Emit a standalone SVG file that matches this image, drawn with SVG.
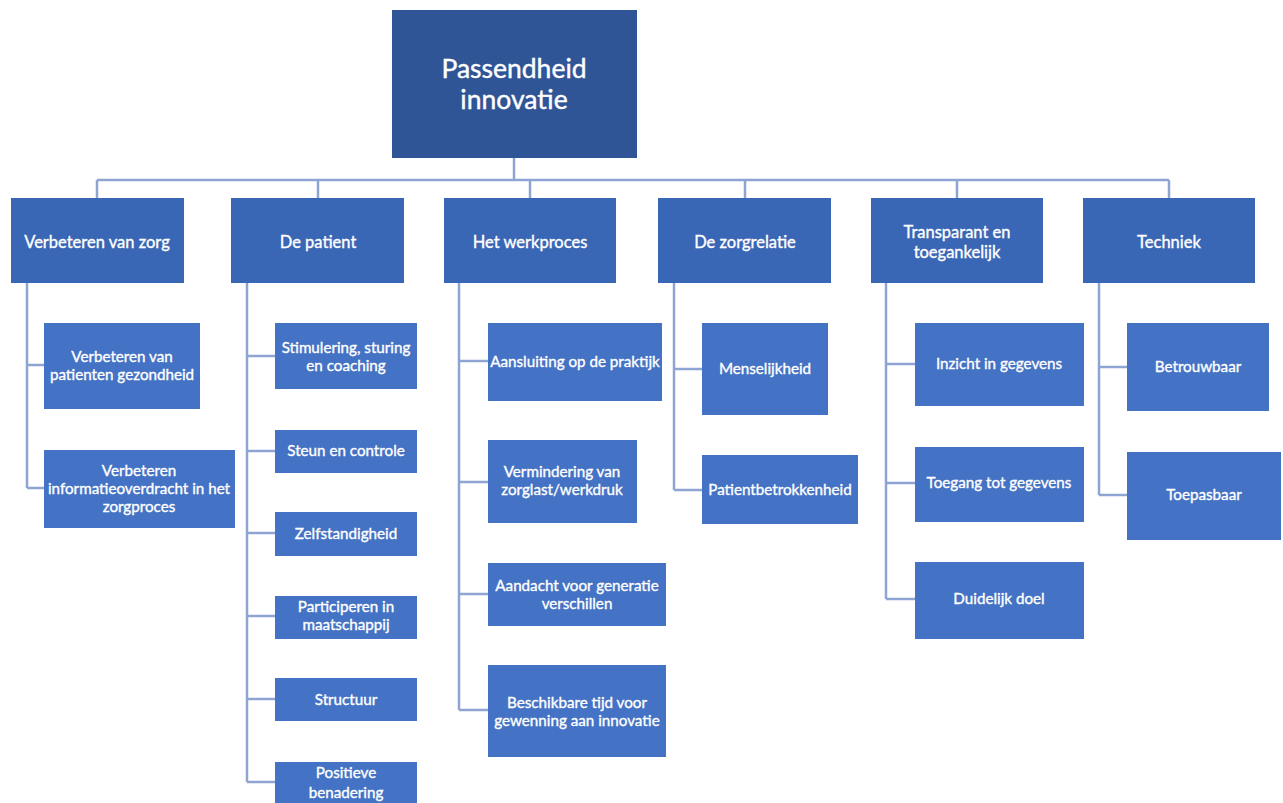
<svg xmlns="http://www.w3.org/2000/svg" width="1283" height="803" viewBox="0 0 1283 803">
  <style>
    .root { fill: #2F5597; }
    .lvl1 { fill: #3A66B6; }
    .leaf { fill: #4472C4; }
    text { font-family: Lato, "Open Sans", "Liberation Sans", sans-serif; fill: #ffffff; text-anchor: middle; stroke: #ffffff; stroke-width: 0.35; }
    .t-root { font-size: 26.5px; stroke-width: 0.4; }
    .t1 { font-size: 16.5px; }
    .t2 { font-size: 15.2px; }
    .conn path { fill: none; stroke: #8EA5D4; stroke-width: 2.5; }
  </style>
  <rect width="1283" height="803" fill="#ffffff"/>

  <!-- connectors -->
  <g class="conn">
    <path d="M514 158 V180 M97 180 H1169 M97 180 V198 M318 180 V198 M530 180 V198 M745 180 V198 M957 180 V198 M1169 180 V198"/>
    <path d="M27 283 V488 M27 365 H44 M27 488 H44"/>
    <path d="M247 283 V782 M247 356 H275 M247 451 H275 M247 533 H275 M247 616 H275 M247 699 H275 M247 782 H275"/>
    <path d="M459 283 V710 M459 361 H488 M459 482 H488 M459 594 H488 M459 710 H488"/>
    <path d="M674 283 V490 M674 369 H702 M674 490 H702"/>
    <path d="M886 283 V599 M886 364 H915 M886 483 H915 M886 599 H915"/>
    <path d="M1099 283 V495 M1099 367 H1127 M1099 495 H1127"/>
  </g>

  <!-- root -->
  <g id="passendheid">
    <rect class="root" x="392" y="10" width="245" height="148"/>
    <text class="t-root" x="514" y="78">Passendheid</text>
    <text class="t-root" x="514" y="109">innovatie</text>
  </g>

  <!-- level 1 -->
  <g id="verbeteren-zorg">
    <rect class="lvl1" x="11" y="198" width="173" height="85"/>
    <text class="t1" x="97" y="248">Verbeteren van zorg</text>
  </g>
  <g id="de-patient">
    <rect class="lvl1" x="231" y="198" width="173" height="85"/>
    <text class="t1" x="318" y="248">De patient</text>
  </g>
  <g id="werkproces">
    <rect class="lvl1" x="444" y="198" width="172" height="85"/>
    <text class="t1" x="530" y="248">Het werkproces</text>
  </g>
  <g id="zorgrelatie">
    <rect class="lvl1" x="658" y="198" width="173" height="85"/>
    <text class="t1" x="745" y="248">De zorgrelatie</text>
  </g>
  <g id="transparant">
    <rect class="lvl1" x="871" y="198" width="172" height="85"/>
    <text class="t1" x="957" y="238">Transparant  en</text>
    <text class="t1" x="957" y="258">toegankelijk</text>
  </g>
  <g id="techniek">
    <rect class="lvl1" x="1083" y="198" width="172" height="85"/>
    <text class="t1" x="1169" y="248">Techniek</text>
  </g>

  <!-- Verbeteren van zorg children -->
  <g id="gezondheid">
    <rect class="leaf" x="44" y="323" width="156" height="86"/>
    <text class="t2" x="122" y="362">Verbeteren van</text>
    <text class="t2" x="122" y="380">patienten gezondheid</text>
  </g>
  <g id="informatieoverdracht">
    <rect class="leaf" x="44" y="450" width="191" height="78"/>
    <text class="t2" x="139" y="476">Verbeteren</text>
    <text class="t2" x="139" y="494">informatieoverdracht in het</text>
    <text class="t2" x="139" y="512">zorgproces</text>
  </g>

  <!-- De patient children -->
  <g id="stimulering">
    <rect class="leaf" x="275" y="323" width="142" height="66"/>
    <text class="t2" x="346" y="353">Stimulering, sturing</text>
    <text class="t2" x="346" y="371">en coaching</text>
  </g>
  <g id="steun">
    <rect class="leaf" x="275" y="430" width="142" height="43"/>
    <text class="t2" x="346" y="456">Steun en controle</text>
  </g>
  <g id="zelfstandigheid">
    <rect class="leaf" x="275" y="512" width="142" height="44"/>
    <text class="t2" x="346" y="539">Zelfstandigheid</text>
  </g>
  <g id="participeren">
    <rect class="leaf" x="275" y="596" width="142" height="43"/>
    <text class="t2" x="346" y="612">Participeren in</text>
    <text class="t2" x="346" y="630">maatschappij</text>
  </g>
  <g id="structuur">
    <rect class="leaf" x="275" y="678" width="142" height="43"/>
    <text class="t2" x="346" y="705">Structuur</text>
  </g>
  <g id="positieve">
    <rect class="leaf" x="275" y="762" width="142" height="50"/>
    <text class="t2" x="346" y="778">Positieve</text>
    <text class="t2" x="346" y="798">benadering</text>
  </g>

  <!-- Het werkproces children -->
  <g id="aansluiting">
    <rect class="leaf" x="488" y="323" width="174" height="78"/>
    <text class="t2" x="575" y="367">Aansluiting op de praktijk</text>
  </g>
  <g id="vermindering">
    <rect class="leaf" x="488" y="440" width="149" height="83"/>
    <text class="t2" x="562" y="477">Vermindering van</text>
    <text class="t2" x="562" y="495">zorglast/werkdruk</text>
  </g>
  <g id="aandacht">
    <rect class="leaf" x="488" y="563" width="178" height="63"/>
    <text class="t2" x="577" y="591">Aandacht voor generatie</text>
    <text class="t2" x="577" y="609">verschillen</text>
  </g>
  <g id="beschikbare-tijd">
    <rect class="leaf" x="488" y="665" width="178" height="92"/>
    <text class="t2" x="577" y="708">Beschikbare tijd voor</text>
    <text class="t2" x="577" y="726">gewenning aan innovatie</text>
  </g>

  <!-- De zorgrelatie children -->
  <g id="menselijkheid">
    <rect class="leaf" x="702" y="323" width="126" height="92"/>
    <text class="t2" x="765" y="374">Menselijkheid</text>
  </g>
  <g id="patientbetrokkenheid">
    <rect class="leaf" x="702" y="455" width="156" height="69"/>
    <text class="t2" x="780" y="495">Patientbetrokkenheid</text>
  </g>

  <!-- Transparant en toegankelijk children -->
  <g id="inzicht">
    <rect class="leaf" x="915" y="323" width="169" height="83"/>
    <text class="t2" x="999" y="369">Inzicht in gegevens</text>
  </g>
  <g id="toegang">
    <rect class="leaf" x="915" y="447" width="169" height="75"/>
    <text class="t2" x="999" y="488">Toegang tot gegevens</text>
  </g>
  <g id="duidelijk-doel">
    <rect class="leaf" x="915" y="562" width="169" height="77"/>
    <text class="t2" x="999" y="604">Duidelijk doel</text>
  </g>

  <!-- Techniek children -->
  <g id="betrouwbaar">
    <rect class="leaf" x="1127" y="323" width="142" height="88"/>
    <text class="t2" x="1198" y="372">Betrouwbaar</text>
  </g>
  <g id="toepasbaar">
    <rect class="leaf" x="1127" y="452" width="154" height="88"/>
    <text class="t2" x="1204" y="500">Toepasbaar</text>
  </g>
</svg>
